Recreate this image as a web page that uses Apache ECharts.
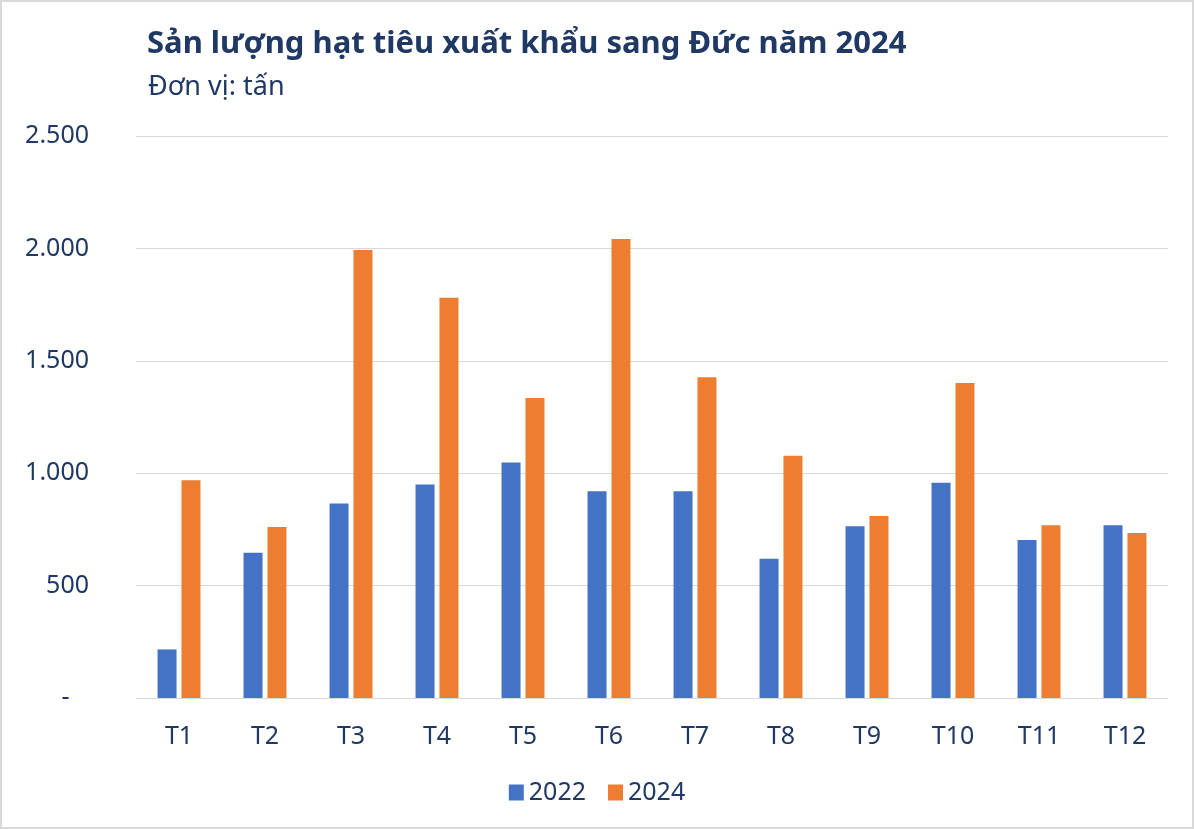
<!DOCTYPE html>
<html>
<head>
<meta charset="utf-8">
<script src="https://cdn.jsdelivr.net/npm/echarts@6/dist/echarts.min.js"></script>
<style>
  html, body { margin: 0; padding: 0; background: #ffffff; }
  #chart { width: 1194px; height: 829px; box-sizing: border-box; border: 2px solid #D9D9D9; }
</style>
</head>
<body>
<div id="chart"></div>
<script>
const titleText = 'Sản lượng hạt tiêu xuất khẩu sang Đức năm 2024';
const subtitleText = 'Đơn vị: tấn';
const categories = ['T1','T2','T3','T4','T5','T6','T7','T8','T9','T10','T11','T12'];
const seriesNames = ['2022', '2024'];
const values2022 = [216, 646, 865, 950, 1048, 920, 920, 619, 764, 958, 703, 769];
const values2024 = [969, 761, 1993, 1780, 1334, 2042, 1427, 1078, 810, 1401, 769, 734];

const textColor = '#1F3864';
const fontFam = '"Noto Sans", "Open Sans", sans-serif';

const chart = echarts.init(document.getElementById('chart'));
chart.setOption({
  backgroundColor: '#ffffff',
  animation: false,
  textStyle: { fontFamily: fontFam },
  title: [
    { text: titleText, left: 140, top: 22,
      textStyle: { fontSize: 31, fontWeight: 'bold', color: textColor, fontFamily: fontFam } },
    { text: subtitleText, left: 141, top: 67,
      textStyle: { fontSize: 27, fontWeight: 'normal', color: textColor, fontFamily: fontFam } }
  ],
  legend: {
    bottom: 17, left: 'center',
    itemWidth: 15, itemHeight: 16, itemGap: 22,
    icon: 'rect',
    textStyle: { fontSize: 25, color: textColor, fontFamily: fontFam },
    data: seriesNames
  },
  grid: { left: 134, right: 24, top: 134, bottom: 129, containLabel: false },
  xAxis: {
    type: 'category',
    data: categories,
    axisLine: { lineStyle: { color: '#D9D9D9', width: 1 } },
    axisTick: { show: false },
    axisLabel: { fontSize: 25, color: textColor, margin: 26, fontFamily: fontFam }
  },
  yAxis: {
    type: 'value',
    min: 0, max: 2500, interval: 500,
    axisLine: { show: false },
    axisTick: { show: false },
    splitLine: { lineStyle: { color: '#D9D9D9', width: 1 } },
    axisLabel: {
      fontSize: 25, color: textColor, margin: 47, fontFamily: fontFam,
      formatter: function (v) {
        if (v === 0) return '-   ';
        return String(v).replace(/\B(?=(\d{3})+(?!\d))/g, '.');
      }
    }
  },
  series: [
    { name: seriesNames[0], type: 'bar', data: values2022, barWidth: 19, barGap: '26%',
      itemStyle: { color: '#4472C4' } },
    { name: seriesNames[1], type: 'bar', data: values2024, barWidth: 19, barGap: '26%',
      itemStyle: { color: '#ED7D31' } }
  ]
});
</script>
</body>
</html>
